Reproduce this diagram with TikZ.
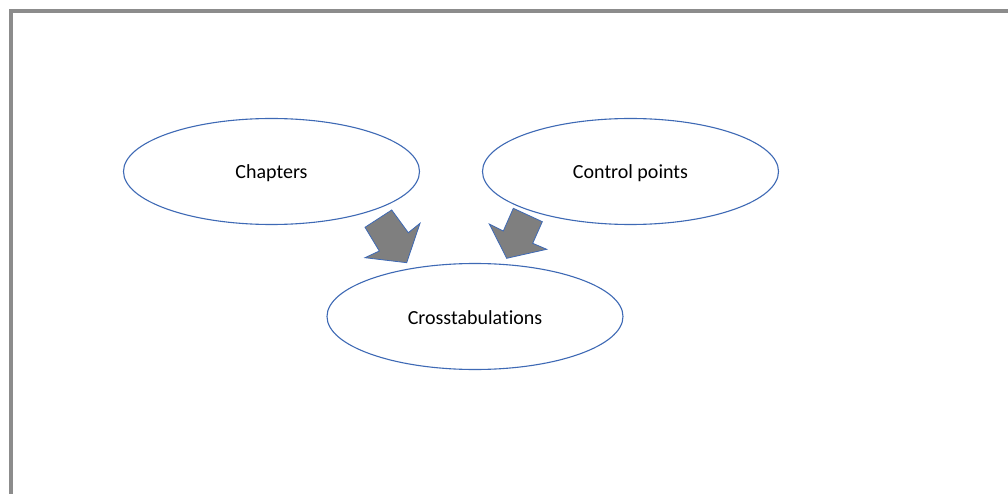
\documentclass[tikz,border=0pt]{standalone}
\usepackage{fontspec}
\setmainfont[Ligatures=NoCommon]{Carlito}
\usetikzlibrary{shapes.geometric}
\definecolor{bord}{HTML}{8C8C8C}
\definecolor{eline}{HTML}{3E69B5}
\definecolor{afill}{HTML}{7F7F7F}
\tikzset{
  oval/.style={ellipse, draw=eline, line width=1.1pt, fill=white, inner sep=0pt,
    minimum width=296pt, minimum height=106pt, font=\fontsize{20}{24}\selectfont,
    text height=19pt, text depth=4pt},
  blockarrow/.style={fill=afill, draw=eline, line width=0.8pt, line join=miter}
}
\begin{document}
\begin{tikzpicture}[x=1pt,y=-1pt]
\useasboundingbox (0,0) rectangle (1008,494);
\fill[white] (0,0) rectangle (1008,494);
\coordinate (tl) at (11,11);
\coordinate (tr) at (1008,11);
\coordinate (bl) at (11,494);
\draw[bord, line width=3.2pt] (tr) -- (tl) -- (bl);
\node[oval] (chap) at (271.5,171.5) {Chapters};
\node[oval] (ctrl) at (630.5,171.5) {Control points};
\node[oval] (cross) at (475,316.5) {Crosstabulations};
\draw[blockarrow] (391.7,210) -- (365,227.3) -- (379.3,251) -- (365,257.7) -- (406.7,262.7) -- (420,223.3) -- (408.3,232.7) -- cycle;
\draw[blockarrow] (513.3,208.3) -- (542.3,221.7) -- (532.7,243.3) -- (546.7,249.3) -- (506.7,258.3) -- (489.3,224) -- (503.3,231) -- cycle;
\end{tikzpicture}
\end{document}
